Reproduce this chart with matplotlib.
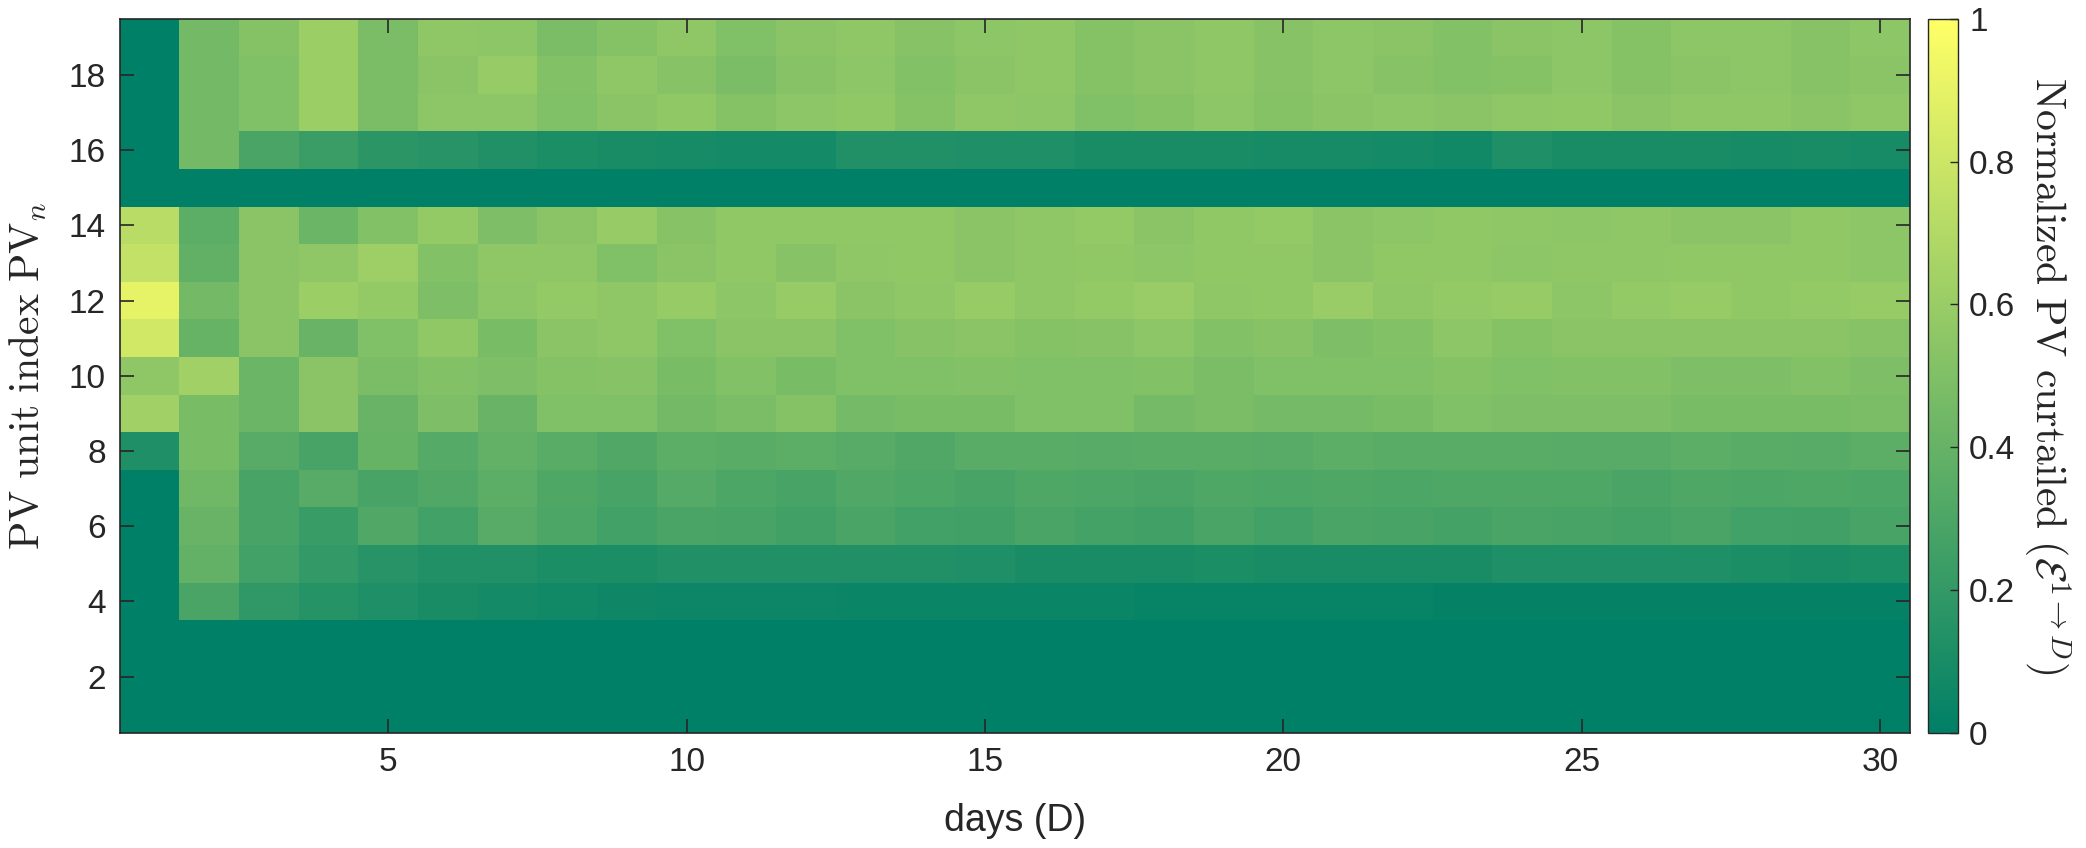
import numpy as np
import matplotlib
matplotlib.use("Agg")
import matplotlib.pyplot as plt

plt.rcParams['font.family'] = ['Liberation Sans', 'DejaVu Sans']
plt.rcParams['mathtext.fontset'] = 'cm'

days = np.arange(1, 31)
pv_units = np.arange(1, 20)

z30 = [0.0] * 30
# rows are PV units 1..19, columns are days 1..30
pv01 = z30
pv02 = z30
pv03 = z30
pv04 = [0, 0.29, 0.19, 0.15, 0.12, 0.10, 0.08, 0.07, 0.06, 0.05, 0.05, 0.05, 0.04, 0.04, 0.04,
        0.04, 0.04, 0.03, 0.03, 0.03, 0.03, 0.03, 0.02, 0.02, 0.02, 0.02, 0.02, 0.02, 0.02, 0.02]
pv05 = [0, 0.39, 0.26, 0.20, 0.16, 0.13, 0.13, 0.11, 0.11, 0.13, 0.13, 0.13, 0.13, 0.13, 0.12,
        0.10, 0.10, 0.10, 0.11, 0.10, 0.10, 0.10, 0.10, 0.12, 0.12, 0.12, 0.12, 0.11, 0.10, 0.11]
pv06 = [0, 0.41, 0.28, 0.22, 0.32, 0.26, 0.34, 0.30, 0.26, 0.29, 0.28, 0.25, 0.29, 0.26, 0.25,
        0.29, 0.27, 0.25, 0.29, 0.26, 0.29, 0.28, 0.27, 0.29, 0.28, 0.27, 0.29, 0.26, 0.25, 0.28]
pv07 = [0, 0.44, 0.28, 0.34, 0.28, 0.32, 0.36, 0.31, 0.28, 0.33, 0.30, 0.28, 0.32, 0.30, 0.28,
        0.31, 0.30, 0.29, 0.31, 0.30, 0.31, 0.30, 0.31, 0.31, 0.31, 0.29, 0.31, 0.30, 0.31, 0.30]
pv08 = [0.12, 0.47, 0.34, 0.28, 0.40, 0.33, 0.39, 0.35, 0.32, 0.36, 0.35, 0.36, 0.34, 0.32, 0.35,
        0.35, 0.34, 0.35, 0.35, 0.34, 0.36, 0.35, 0.35, 0.35, 0.34, 0.34, 0.36, 0.35, 0.34, 0.36]
pv09 = [0.63, 0.47, 0.42, 0.54, 0.41, 0.49, 0.41, 0.50, 0.50, 0.45, 0.48, 0.52, 0.46, 0.47, 0.47,
        0.50, 0.50, 0.46, 0.48, 0.46, 0.46, 0.47, 0.50, 0.49, 0.49, 0.49, 0.47, 0.47, 0.47, 0.48]
pv10 = [0.56, 0.63, 0.42, 0.54, 0.48, 0.51, 0.49, 0.52, 0.53, 0.47, 0.51, 0.47, 0.50, 0.50, 0.51,
        0.50, 0.50, 0.51, 0.48, 0.50, 0.50, 0.50, 0.52, 0.50, 0.51, 0.51, 0.49, 0.49, 0.51, 0.49]
pv11 = [0.82, 0.40, 0.54, 0.41, 0.50, 0.57, 0.47, 0.54, 0.56, 0.50, 0.54, 0.54, 0.50, 0.53, 0.54,
        0.52, 0.53, 0.55, 0.51, 0.53, 0.49, 0.51, 0.55, 0.52, 0.54, 0.54, 0.54, 0.54, 0.54, 0.53]
pv12 = [0.90, 0.45, 0.54, 0.61, 0.58, 0.49, 0.55, 0.58, 0.56, 0.59, 0.55, 0.59, 0.54, 0.56, 0.59,
        0.56, 0.58, 0.60, 0.56, 0.57, 0.60, 0.56, 0.58, 0.59, 0.55, 0.58, 0.59, 0.57, 0.58, 0.59]
pv13 = [0.76, 0.38, 0.54, 0.56, 0.62, 0.51, 0.56, 0.56, 0.50, 0.54, 0.57, 0.53, 0.56, 0.57, 0.54,
        0.56, 0.57, 0.55, 0.57, 0.57, 0.54, 0.57, 0.57, 0.55, 0.56, 0.56, 0.57, 0.57, 0.57, 0.55]
pv14 = [0.72, 0.36, 0.54, 0.42, 0.51, 0.58, 0.49, 0.54, 0.59, 0.53, 0.57, 0.57, 0.57, 0.57, 0.54,
        0.56, 0.58, 0.54, 0.57, 0.58, 0.54, 0.55, 0.57, 0.56, 0.55, 0.56, 0.54, 0.54, 0.57, 0.55]
pv15 = z30
pv16 = [0, 0.45, 0.29, 0.23, 0.17, 0.16, 0.13, 0.11, 0.10, 0.09, 0.08, 0.08, 0.13, 0.13, 0.12,
        0.12, 0.10, 0.10, 0.10, 0.09, 0.09, 0.08, 0.07, 0.12, 0.10, 0.10, 0.10, 0.09, 0.10, 0.09]
pv17 = [0, 0.45, 0.50, 0.61, 0.48, 0.55, 0.55, 0.50, 0.54, 0.57, 0.52, 0.55, 0.57, 0.52, 0.56,
        0.55, 0.50, 0.52, 0.55, 0.52, 0.54, 0.55, 0.54, 0.56, 0.57, 0.54, 0.56, 0.56, 0.54, 0.56]
pv18 = [0, 0.45, 0.50, 0.61, 0.48, 0.54, 0.59, 0.51, 0.56, 0.53, 0.48, 0.53, 0.55, 0.51, 0.54,
        0.56, 0.52, 0.54, 0.56, 0.53, 0.55, 0.53, 0.51, 0.52, 0.55, 0.52, 0.54, 0.55, 0.53, 0.54]
pv19 = [0, 0.45, 0.52, 0.61, 0.48, 0.56, 0.55, 0.48, 0.52, 0.56, 0.50, 0.54, 0.56, 0.53, 0.55,
        0.56, 0.52, 0.54, 0.56, 0.53, 0.55, 0.54, 0.51, 0.54, 0.55, 0.52, 0.55, 0.55, 0.53, 0.55]

curtailed = np.array([pv01, pv02, pv03, pv04, pv05, pv06, pv07, pv08, pv09, pv10,
                      pv11, pv12, pv13, pv14, pv15, pv16, pv17, pv18, pv19])

x_ticks = [5, 10, 15, 20, 25, 30]
y_ticks = [2, 4, 6, 8, 10, 12, 14, 16, 18]
cb_ticks = [0, 0.2, 0.4, 0.6, 0.8, 1]
cb_labels = ['0', '0.2', '0.4', '0.6', '0.8', '1']

fig = plt.figure(figsize=(20.86, 8.48), dpi=100)
ax = fig.add_axes([0.0574, 0.1356, 0.8582, 0.8424])

im = ax.pcolormesh(np.arange(0.5, 31), np.arange(0.5, 20), curtailed,
                   cmap='summer', vmin=0, vmax=1, shading='flat')
ax.set_xlim(0.5, 30.5)
ax.set_ylim(0.5, 19.5)

ax.set_xticks(x_ticks)
ax.set_yticks(y_ticks)
ax.tick_params(direction='in', length=10, width=1.2, labelsize=24, colors='#262626',
               top=True, right=True, pad=10)
for s in ax.spines.values():
    s.set_linewidth(1.2)
    s.set_color('#262626')

ax.set_xlabel('days (D)', fontsize=27, color='#262626', labelpad=18)
ax.set_ylabel(r'$\mathrm{PV\ unit\ index\ PV}_n$', fontsize=30, color='#262626', labelpad=14)

cax = fig.add_axes([0.9243, 0.1356, 0.0144, 0.8424])
cb = fig.colorbar(im, cax=cax, ticks=cb_ticks)
cb.ax.set_yticklabels(cb_labels)
cb.ax.tick_params(direction='in', length=6, width=1.0, labelsize=24, colors='#262626', pad=8)
cb.outline.set_linewidth(1.0)
cb.outline.set_edgecolor('#262626')
cb.set_label(r'$\mathrm{Normalized\ PV\ curtailed\ }(\mathcal{E}^{1\to D})$',
             fontsize=30, rotation=-90, labelpad=42, color='#262626')

fig.savefig('out.png', dpi=100)
